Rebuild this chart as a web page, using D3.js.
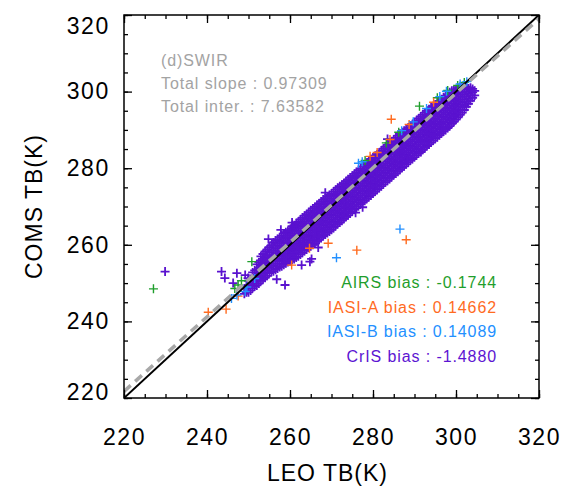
<!DOCTYPE html>
<html>
<head>
<meta charset="utf-8">
<script src="https://cdn.jsdelivr.net/npm/d3@7"></script>
<style>
  body { margin: 0; background: #fff; }
  svg { display: block; font-family: "Liberation Sans", Arial, Helvetica, sans-serif; }
</style>
</head>
<body>
<div id="vis1"></div>
<script>
const FRAME_WIDTH = 415;
const FRAME_HEIGHT = 383;
const MARGINS = {left: 124, right: 22, top: 15, bottom: 91};

// axis ticks / labels
const majorTicks = [220, 240, 260, 280, 300, 320];

// fit of all instruments
const totalSlope = 0.97309;
const totalInter = 7.63582;
const infoLines = ["(d)SWIR", "Total slope : 0.97309", "Total inter. : 7.63582"];

const biasLabels = ["AIRS bias : -0.1744", "IASI-A bias : 0.14662", "IASI-B bias : 0.14089", "CrIS bias : -1.4880"];
const biasColors = ["#1f9e2c", "#ff6b1f", "#2390ff", "#5c14d2"];

// CrIS: each row is [LEO TB, COMS TB, COMS TB, ...]
const crisRows = [
  [249, 247.2, 248.6],
  [250, 247.6, 249, 250.6],
  [251, 248.7, 250, 251.4, 252.8],
  [252, 249.4, 250.8, 252.1, 253.5, 254.9],
  [253, 250.6, 251.9, 253.2, 254.6, 255.9, 257],
  [254, 251.4, 252.8, 254.1, 255.5, 256.8, 258.3],
  [255, 252.6, 254, 255.3, 256.6, 258, 259.4],
  [256, 253.1, 254.5, 255.8, 257.2, 258.5, 259.8, 260.6],
  [257, 253.8, 255.1, 256.4, 257.8, 259.1, 260.4, 261.5],
  [258, 254.4, 255.8, 257.1, 258.5, 259.8, 261.2, 262.4],
  [259, 255.2, 256.5, 257.8, 259.2, 260.5, 261.9, 263.3],
  [260, 255.7, 257, 258.4, 259.7, 261.1, 262.4, 263.8],
  [261, 256.3, 257.6, 259, 260.3, 261.7, 263, 264.4, 265.1],
  [262, 257, 258.4, 259.7, 261.1, 262.4, 263.8, 265.1, 266],
  [263, 257.9, 259.3, 260.6, 262, 263.3, 264.7, 266, 267.1],
  [264, 258.8, 260.1, 261.5, 262.8, 264.2, 265.5, 266.9, 268],
  [265, 259.6, 261, 262.3, 263.7, 265, 266.4, 267.7, 269],
  [266, 260.4, 261.8, 263.1, 264.5, 265.8, 267.2, 268.5, 269.9],
  [267, 261.3, 262.7, 264, 265.4, 266.7, 268.1, 269.4, 270.8],
  [268, 262.3, 263.6, 265, 266.3, 267.7, 269, 270.4, 271.8],
  [269, 263.1, 264.5, 265.8, 267.2, 268.5, 269.9, 271.2, 272.6],
  [270, 263.9, 265.3, 266.6, 268, 269.3, 270.7, 272, 273.4],
  [271, 264.9, 266.2, 267.6, 268.9, 270.3, 271.6, 273, 274.4],
  [272, 265.8, 267.2, 268.5, 269.9, 271.2, 272.6, 273.9, 275.3],
  [273, 266.8, 268.1, 269.5, 270.8, 272.2, 273.5, 274.9, 276.1],
  [274, 267.7, 269.1, 270.4, 271.8, 273.1, 274.5, 275.8, 277.1],
  [275, 268.7, 270, 271.4, 272.7, 274.1, 275.4, 276.8, 278],
  [276, 269.6, 271, 272.3, 273.7, 275, 276.4, 277.7, 279],
  [277, 270.6, 271.9, 273.3, 274.6, 276, 277.3, 278.7, 279.9],
  [278, 271.5, 272.9, 274.2, 275.6, 276.9, 278.3, 279.6, 280.9],
  [279, 272.5, 273.8, 275.2, 276.5, 277.9, 279.2, 280.6, 281.9],
  [280, 273.4, 274.8, 276.1, 277.5, 278.8, 280.2, 281.5, 282.8],
  [281, 274.4, 275.7, 277.1, 278.4, 279.8, 281.1, 282.5, 283.6],
  [282, 275.3, 276.7, 278, 279.4, 280.7, 282.1, 283.4, 284.6],
  [283, 276.3, 277.6, 279, 280.3, 281.7, 283, 284.4, 285.6],
  [284, 277.2, 278.6, 279.9, 281.3, 282.6, 284, 285.3, 286.6],
  [285, 278.2, 279.5, 280.9, 282.2, 283.6, 284.9, 286.3, 287.5],
  [286, 279.1, 280.5, 281.8, 283.2, 284.5, 285.9, 287.2, 288.5],
  [287, 280.1, 281.4, 282.8, 284.1, 285.5, 286.8, 288.2, 289.4],
  [288, 281, 282.4, 283.7, 285.1, 286.4, 287.8, 289.1, 290.2],
  [289, 282, 283.3, 284.7, 286, 287.4, 288.7, 290.1, 291.1],
  [290, 282.9, 284.3, 285.6, 287, 288.3, 289.7, 291, 292],
  [291, 283.9, 285.2, 286.6, 287.9, 289.3, 290.6, 292, 293],
  [292, 284.8, 286.2, 287.5, 288.9, 290.2, 291.6, 292.9, 294],
  [293, 285.8, 287.1, 288.5, 289.8, 291.2, 292.5, 293.9, 295],
  [294, 286.7, 288.1, 289.4, 290.8, 292.1, 293.5, 294.8, 295.9],
  [295, 287.7, 289, 290.4, 291.7, 293.1, 294.4, 295.8, 296.6],
  [296, 288.6, 290, 291.3, 292.7, 294, 295.4, 296.7, 297.6],
  [297, 289.6, 290.9, 292.3, 293.6, 295, 296.3, 297.7, 298.5],
  [298, 290.5, 291.9, 293.2, 294.6, 295.9, 297.3, 298.6, 299.3],
  [299, 291.6, 292.9, 294.2, 295.6, 296.9, 298.3, 299.6, 300.2],
  [300, 292.7, 294, 295.3, 296.7, 298, 299.4, 300.6],
  [301, 293.9, 295.2, 296.6, 297.9, 299.3, 300.6, 301.2],
  [302, 295.2, 296.5, 297.9, 299.2, 300.6, 301.6],
  [303, 296.8, 298.1, 299.5, 300.8],
  [304, 298.4, 299.8, 300.7]
];

// CrIS, in-between columns of the dense band
const crisRowsMid = [
  [249.5, 247.6, 249.1],
  [250.5, 248.1, 249.5, 251.1],
  [251.5, 249.2, 250.4, 251.9, 253.3],
  [252.5, 249.9, 251.3, 252.6, 254, 255.4],
  [253.5, 251, 252.4, 253.7, 255.1, 256.4, 257.6],
  [254.5, 251.9, 253.3, 254.6, 256, 257.3, 258.8],
  [255.5, 252.9, 254.5, 255.8, 257.1, 258.5, 259.9],
  [256.5, 253.5, 255, 256.3, 257.7, 259, 260.3, 261.1],
  [257.5, 254.2, 255.6, 256.9, 258.3, 259.6, 260.9, 262],
  [258.5, 254.8, 256.2, 257.6, 259, 260.3, 261.7, 262.9],
  [259.5, 255.5, 257, 258.3, 259.7, 261, 262.4, 263.6],
  [260.5, 256.1, 257.4, 258.8, 260.2, 261.5, 262.9, 264.2, 264.9],
  [261.5, 256.7, 258.1, 259.4, 260.8, 262.1, 263.5, 264.9, 265.6],
  [262.5, 257.5, 258.9, 260.2, 261.6, 262.9, 264.3, 265.6, 266.6],
  [263.5, 258.4, 259.7, 261.1, 262.4, 263.8, 265.1, 266.5, 267.6],
  [264.5, 259.2, 260.6, 261.9, 263.3, 264.6, 266, 267.3, 268.5],
  [265.5, 260, 261.4, 262.7, 264.1, 265.4, 266.8, 268.1, 269.5],
  [266.5, 260.9, 262.3, 263.6, 265, 266.3, 267.7, 269, 270.4],
  [267.5, 261.8, 263.2, 264.5, 265.9, 267.2, 268.6, 269.9, 271.3],
  [268.5, 262.7, 264.1, 265.4, 266.8, 268.1, 269.5, 270.8, 272.2],
  [269.5, 263.5, 264.9, 266.2, 267.6, 268.9, 270.3, 271.6, 273],
  [270.5, 264.4, 265.8, 267.1, 268.5, 269.8, 271.2, 272.5, 273.9],
  [271.5, 265.4, 266.7, 268.1, 269.4, 270.8, 272.1, 273.5, 274.9],
  [272.5, 266.3, 267.7, 269, 270.4, 271.7, 273.1, 274.4, 275.7],
  [273.5, 267.3, 268.6, 270, 271.3, 272.7, 274, 275.4, 276.6],
  [274.5, 268.2, 269.6, 270.9, 272.3, 273.6, 275, 276.3, 277.6],
  [275.5, 269.2, 270.5, 271.9, 273.2, 274.6, 275.9, 277.3, 278.5],
  [276.5, 270.1, 271.5, 272.8, 274.2, 275.5, 276.9, 278.2, 279.5],
  [277.5, 271, 272.4, 273.8, 275.1, 276.5, 277.8, 279.2, 280.4],
  [278.5, 272, 273.4, 274.7, 276.1, 277.4, 278.8, 280.1, 281.4],
  [279.5, 272.9, 274.3, 275.7, 277, 278.4, 279.7, 281.1, 282.4],
  [280.5, 273.9, 275.3, 276.6, 278, 279.3, 280.7, 282, 283.2],
  [281.5, 274.8, 276.2, 277.6, 278.9, 280.3, 281.6, 283, 284.1],
  [282.5, 275.8, 277.2, 278.5, 279.9, 281.2, 282.6, 283.9, 285.1],
  [283.5, 276.7, 278.1, 279.5, 280.8, 282.2, 283.5, 284.9, 286.1],
  [284.5, 277.7, 279.1, 280.4, 281.8, 283.1, 284.5, 285.8, 287],
  [285.5, 278.6, 280, 281.4, 282.7, 284.1, 285.4, 286.8, 288],
  [286.5, 279.6, 281, 282.3, 283.7, 285, 286.4, 287.7, 289],
  [287.5, 280.5, 281.9, 283.3, 284.6, 286, 287.3, 288.7, 289.8],
  [288.5, 281.5, 282.9, 284.2, 285.6, 286.9, 288.3, 289.6, 290.6],
  [289.5, 282.4, 283.8, 285.2, 286.5, 287.9, 289.2, 290.6, 291.5],
  [290.5, 283.4, 284.8, 286.1, 287.5, 288.8, 290.2, 291.5, 292.5],
  [291.5, 284.3, 285.7, 287.1, 288.4, 289.8, 291.1, 292.5, 293.5],
  [292.5, 285.3, 286.7, 288, 289.4, 290.7, 292.1, 293.4, 294.5],
  [293.5, 286.2, 287.6, 289, 290.3, 291.7, 293, 294.4, 295.4],
  [294.5, 287.2, 288.6, 289.9, 291.3, 292.6, 294, 295.3, 296.2],
  [295.5, 288.1, 289.5, 290.9, 292.2, 293.6, 294.9, 296.3, 297.1],
  [296.5, 289.1, 290.5, 291.8, 293.2, 294.5, 295.9, 297.2, 298],
  [297.5, 290, 291.4, 292.8, 294.1, 295.5, 296.8, 298.2, 298.9],
  [298.5, 291, 292.4, 293.7, 295.1, 296.4, 297.8, 299.1, 299.8],
  [299.5, 292.1, 293.5, 294.8, 296.2, 297.5, 298.9, 300.3],
  [300.5, 293.3, 294.6, 296, 297.3, 298.7, 300, 300.9],
  [301.5, 294.5, 295.9, 297.2, 298.6, 299.9, 301.3],
  [302.5, 296, 297.3, 298.7, 300, 301.3],
  [303.5, 297.6, 299, 300.3, 301],
  [304.5, 299, 300.2]
];

// CrIS points off the main band
const crisExtra = [
  [229.9, 253], [243.5, 253], [244.3, 251.3], [246.3, 250], [247.2, 252.6], [249.2, 252.1],
  [249.9, 251.3], [256.8, 251], [258.8, 249.5], [262.8, 254.7], [264.8, 255.6], [266.8, 259.3],
  [263.2, 260.4], [265.2, 256.3], [277.5, 269.8], [275.8, 268.4], [254.8, 261.5], [257.8, 263.9],
  [260.5, 265.8], [268.5, 273.6], [283.5, 287.6], [288.4, 282], [291.5, 284.2], [296.5, 289.5]
];

const airsPts = [
  [227.1, 248.5], [246.7, 248.6], [247.5, 249.5], [250.8, 255.6], [248.3, 250.6], [278.1, 282.0],
  [283.2, 286.6], [286.2, 289.4], [291.2, 296.2], [295.5, 298.4], [298.0, 300.3], [300.4, 301.6], [302.0, 302.4]
];

const iasiAPts = [
  [240.3, 242.4], [244.6, 243.2], [247.5, 246.6], [260.4, 254.7], [264.7, 259.1], [269.2, 260.4],
  [276.1, 258.6], [288.0, 261.3], [279.3, 283.1], [281.0, 284.1], [284.1, 287.5], [284.4, 292.8],
  [288.7, 291.4], [294.6, 297.2]
];

const iasiBPts = [
  [245.9, 246.0], [247.2, 246.9], [249.2, 247.8], [249.6, 249.0], [251.5, 251.2], [271.2, 256.6],
  [286.5, 264.1], [276.5, 281.3], [277.4, 281.7], [286.9, 289.8], [289.7, 292.1], [292.9, 295.6],
  [296.1, 298.7], [297.7, 300.1], [301.0, 302.0], [302.6, 302.6]
];

// flatten cris rows into points
const crisPts = [];
crisRows.concat(crisRowsMid).forEach((r) => { r.slice(1).forEach((v) => crisPts.push([r[0], v])); });
crisExtra.forEach((p) => crisPts.push(p));

const SVG = d3.select("#vis1")
  .append("svg")
    .attr("width", FRAME_WIDTH + MARGINS.left + MARGINS.right)
    .attr("height", FRAME_HEIGHT + MARGINS.top + MARGINS.bottom);

const FRAME1 = SVG.append("g")
    .attr("transform", "translate(" + MARGINS.left + "," + MARGINS.top + ")");

const x = d3.scaleLinear().domain([220, 320]).range([0, FRAME_WIDTH]);
const y = d3.scaleLinear().domain([220, 320]).range([FRAME_HEIGHT, 0]);

FRAME1.append("clipPath").attr("id", "clip")
  .append("rect").attr("width", FRAME_WIDTH).attr("height", FRAME_HEIGHT);

const plot = FRAME1.append("g").attr("clip-path", "url(#clip)");

const plus = "M-4.5,0H4.5M0,-4.5V4.5";
function drawPts(pts, color, sw) {
  plot.append("g").selectAll("path")
    .data(pts)
    .enter()
    .append("path")
      .attr("d", plus)
      .attr("transform", (d) => "translate(" + x(d[0]) + "," + y(d[1]) + ")")
      .attr("stroke", color)
      .attr("stroke-width", sw)
      .attr("fill", "none");
}

drawPts(crisPts, "#5a12cf", 1.8);
drawPts(airsPts, biasColors[0], 1.4);
drawPts(iasiAPts, biasColors[1], 1.4);
drawPts(iasiBPts, biasColors[2], 1.4);

// 1:1 line
plot.append("line")
  .attr("x1", x(220)).attr("y1", y(220))
  .attr("x2", x(320)).attr("y2", y(320))
  .attr("stroke", "#000").attr("stroke-width", 2);

// total regression line
plot.append("line")
  .attr("x1", x(220)).attr("y1", y(totalSlope * 220 + totalInter))
  .attr("x2", x(320)).attr("y2", y(totalSlope * 320 + totalInter))
  .attr("stroke", "#a8a8a8").attr("stroke-width", 3.5)
  .attr("stroke-dasharray", "9,6");

// axes: major + minor ticks pointing inward, on all four sides
function styleAxis(g) {
  g.select(".domain").remove();
  g.selectAll("line").attr("stroke", "#000").attr("stroke-width", 1.3);
  g.selectAll("text")
    .attr("fill", "#000")
    .style("font-size", "23px")
    .style("letter-spacing", "1.5px");
}

FRAME1.append("g")
  .attr("transform", "translate(0," + FRAME_HEIGHT + ")")
  .call(d3.axisBottom(x).tickValues(majorTicks).tickSize(-8).tickPadding(31).tickFormat(d3.format("d")))
  .call(styleAxis);
FRAME1.append("g")
  .attr("transform", "translate(0," + FRAME_HEIGHT + ")")
  .call(d3.axisBottom(x).ticks(20).tickSize(-4).tickFormat(""))
  .call(styleAxis);
FRAME1.append("g")
  .call(d3.axisTop(x).tickValues(majorTicks).tickSize(-8).tickFormat(""))
  .call(styleAxis);
FRAME1.append("g")
  .call(d3.axisTop(x).ticks(20).tickSize(-4).tickFormat(""))
  .call(styleAxis);

const yAxis = FRAME1.append("g")
  .call(d3.axisLeft(y).tickValues(majorTicks).tickSize(-8).tickPadding(12).tickFormat(d3.format("d")))
  .call(styleAxis);
yAxis.selectAll("text").attr("dx", "-0.1em");
yAxis.selectAll(".tick").filter((d) => d === 320).select("text").attr("y", 11);
yAxis.selectAll(".tick").filter((d) => d === 220).select("text").attr("y", -6);
FRAME1.append("g")
  .call(d3.axisLeft(y).ticks(20).tickSize(-4).tickFormat(""))
  .call(styleAxis);
FRAME1.append("g")
  .attr("transform", "translate(" + FRAME_WIDTH + ",0)")
  .call(d3.axisRight(y).tickValues(majorTicks).tickSize(-8).tickFormat(""))
  .call(styleAxis);
FRAME1.append("g")
  .attr("transform", "translate(" + FRAME_WIDTH + ",0)")
  .call(d3.axisRight(y).ticks(20).tickSize(-4).tickFormat(""))
  .call(styleAxis);

// frame
FRAME1.append("rect")
  .attr("width", FRAME_WIDTH).attr("height", FRAME_HEIGHT)
  .attr("fill", "none").attr("stroke", "#000").attr("stroke-width", 1.5);

// axis titles
SVG.append("text")
  .attr("x", MARGINS.left + FRAME_WIDTH / 2 - 4)
  .attr("y", 481)
  .attr("text-anchor", "middle")
  .style("font-size", "23px")
  .style("letter-spacing", "1px")
  .text("LEO TB(K)");

SVG.append("text")
  .attr("transform", "translate(42," + (MARGINS.top + FRAME_HEIGHT / 2) + ")rotate(-90)")
  .attr("text-anchor", "middle")
  .style("font-size", "23px")
  .style("letter-spacing", "1px")
  .text("COMS TB(K)");

// info text
SVG.append("g").selectAll("text")
  .data(infoLines)
  .enter()
  .append("text")
    .attr("x", 161)
    .attr("y", (d, i) => 66 + i * 23)
    .attr("fill", "#a3a3a3")
    .style("font-size", "16px")
    .style("letter-spacing", "0.9px")
    .text((d) => d);

// bias legend
SVG.append("g").selectAll("text")
  .data(biasLabels)
  .enter()
  .append("text")
    .attr("x", 497)
    .attr("y", (d, i) => 288 + i * 24.5)
    .attr("text-anchor", "end")
    .attr("fill", (d, i) => biasColors[i])
    .style("font-size", "16px")
    .style("letter-spacing", "0.9px")
    .text((d) => d);
</script>
</body>
</html>
